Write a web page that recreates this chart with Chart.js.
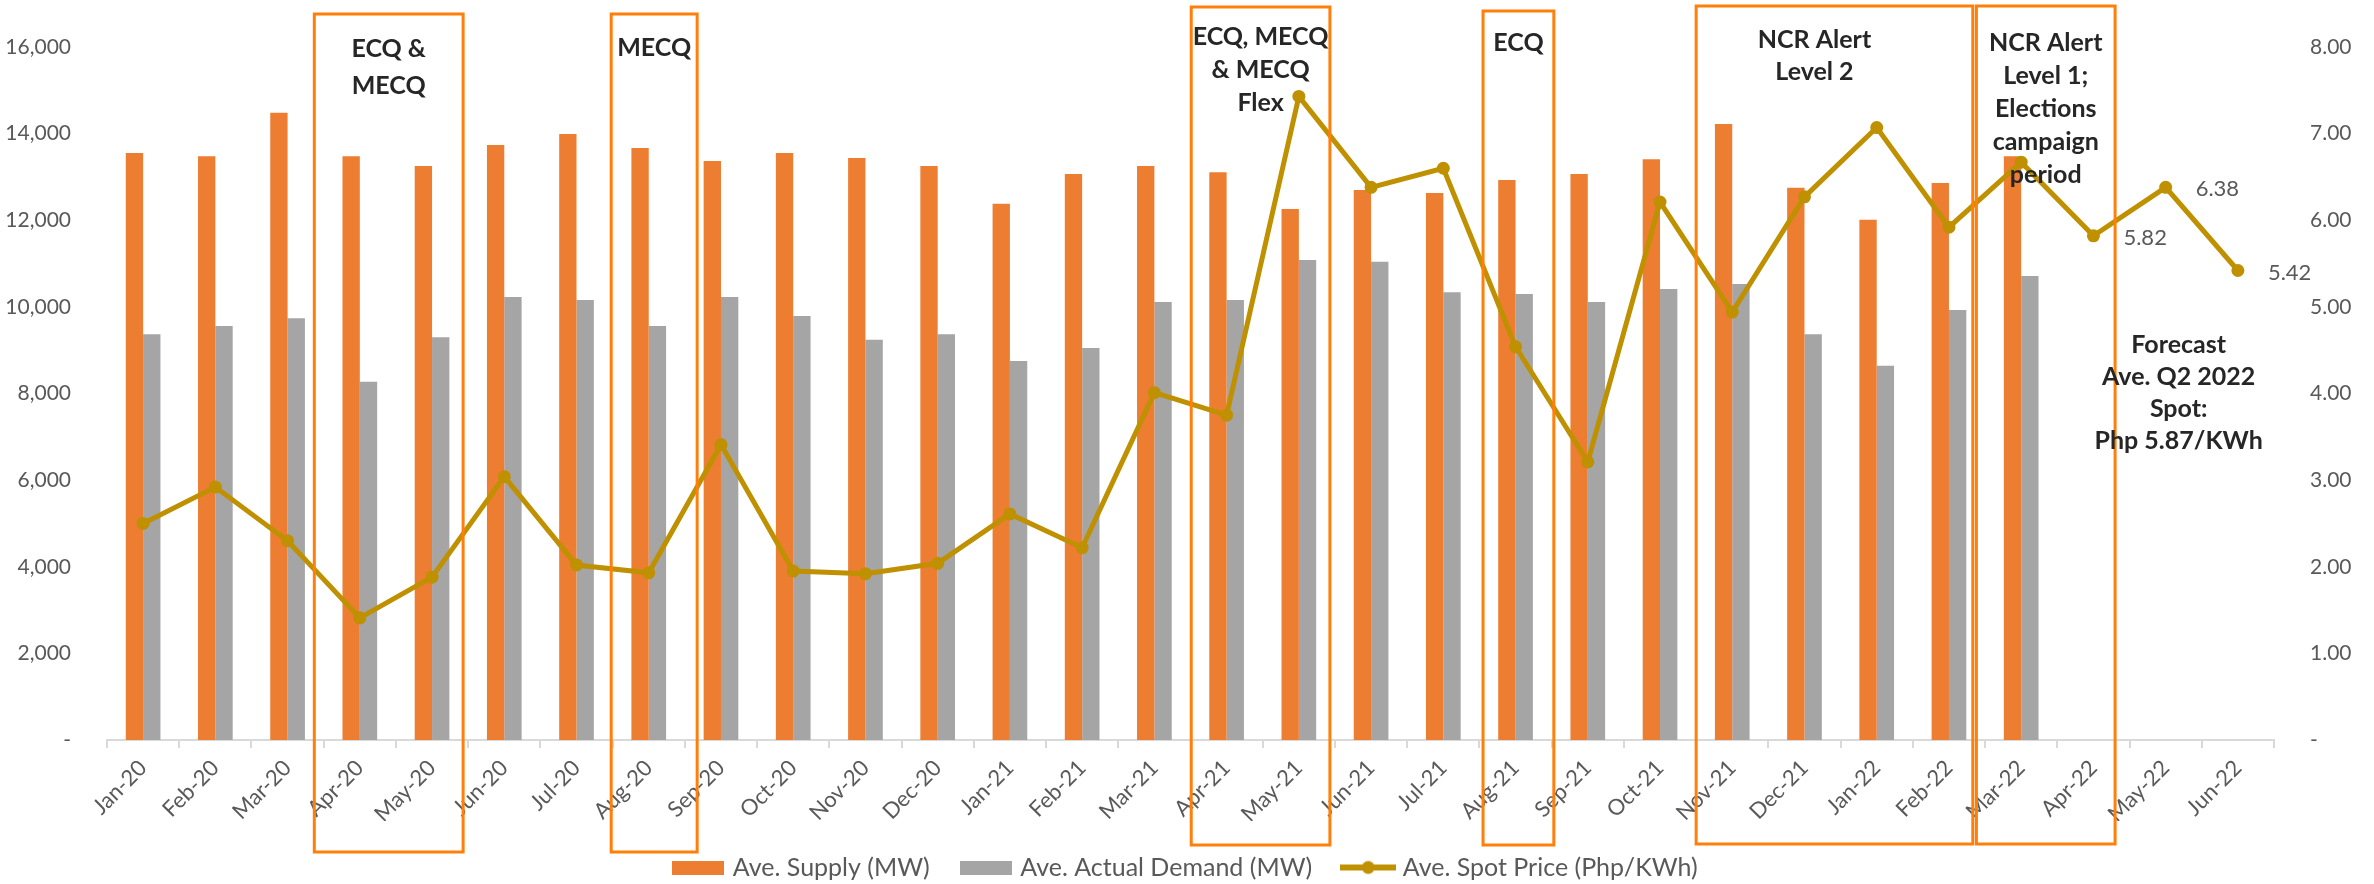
<!DOCTYPE html>
<html>
<head>
<meta charset="utf-8">
<title>Ave. Supply, Actual Demand and Spot Price</title>
<script src="https://cdn.jsdelivr.net/npm/chart.js@4.4.0/dist/chart.umd.min.js"></script>
<style>
	html, body { margin: 0; padding: 0; background: #ffffff; }
	#wrap { width: 2374px; height: 884px; }
</style>
</head>
<body>
<div id="wrap"><canvas id="chart" width="2374" height="884"></canvas></div>
<script>
(() => {
	'use strict'

	// Categories
	const months = ['Jan-20', 'Feb-20', 'Mar-20', 'Apr-20', 'May-20', 'Jun-20', 'Jul-20', 'Aug-20', 'Sep-20', 'Oct-20', 'Nov-20', 'Dec-20',
		'Jan-21', 'Feb-21', 'Mar-21', 'Apr-21', 'May-21', 'Jun-21', 'Jul-21', 'Aug-21', 'Sep-21', 'Oct-21', 'Nov-21', 'Dec-21',
		'Jan-22', 'Feb-22', 'Mar-22', 'Apr-22', 'May-22', 'Jun-22'];

	// Series values (MW and Php/KWh)
	const supply = [13550, 13480, 14480, 13480, 13250, 13740, 13990, 13670, 13370, 13550, 13440, 13250,
		12380, 13070, 13250, 13110, 12260, 12700, 12630, 12930, 13070, 13410, 14220, 12750,
		12010, 12860, 13480, null, null, null];
	const demand = [9370, 9560, 9740, 8270, 9300, 10230, 10160, 9560, 10230, 9790, 9240, 9370,
		8750, 9050, 10110, 10160, 11080, 11040, 10340, 10300, 10110, 10410, 10530, 9370,
		8640, 9930, 10710, null, null, null];
	const spotPrice = [2.50, 2.92, 2.30, 1.41, 1.88, 3.04, 2.02, 1.93, 3.41, 1.95, 1.92, 2.04,
		2.61, 2.22, 4.01, 3.75, 7.43, 6.38, 6.60, 4.54, 3.21, 6.21, 4.94, 6.27,
		7.07, 5.92, 6.67, 5.82, 6.38, 5.42];

	// Tick labels
	const mwTicks = [0, 2000, 4000, 6000, 8000, 10000, 12000, 14000, 16000];
	const priceTicks = [0, 1, 2, 3, 4, 5, 6, 7, 8];

	// Series names
	const seriesNames = ['Ave. Supply (MW)', 'Ave. Actual Demand (MW)', 'Ave. Spot Price (Php/KWh)'];

	// Quarantine periods marked on the chart
	const periodFirst = ['Apr-20', 'Aug-20', 'Apr-21', 'Aug-21', 'Nov-21', 'Mar-22'];
	const periodLast = ['May-20', 'Aug-20', 'May-21', 'Aug-21', 'Feb-22', 'Apr-22'];
	const periodNotes = [
		['ECQ &', 'MECQ'],
		['MECQ'],
		['ECQ, MECQ', '& MECQ', 'Flex'],
		['ECQ'],
		['NCR Alert', 'Level 2'],
		['NCR Alert', 'Level 1;', 'Elections', 'campaign', 'period'],
	];
	const forecastNote = ['Forecast', 'Ave. Q2 2022', 'Spot:', 'Php 5.87/KWh'];
	const labelledMonths = ['Apr-22', 'May-22', 'Jun-22'];

	// Colours and fonts
	const orange = '#ED7D31';
	const grey = '#A5A5A5';
	const gold = '#BF9000';
	const boxColor = '#FF7F0A';
	const textColor = '#595959';
	const fontFamily = 'Lato, "Noto Sans", sans-serif';

	// Box layout (insets in category widths, pixel rows)
	const boxLayout = [
		{ padL: 0.63, padR: 0.43, top: 14, bottom: 852, textY: 49, lineH: 37, dx: 0 },
		{ padL: 0.52, padR: 0.67, top: 14, bottom: 852, textY: 48, lineH: 33, dx: 0 },
		{ padL: 0.49, padR: 0.43, top: 7, bottom: 845, textY: 37, lineH: 33, dx: 0 },
		{ padL: 0.45, padR: 0.53, top: 11, bottom: 845, textY: 43, lineH: 33, dx: 0 },
		{ padL: 0.50, padR: 0.33, top: 6, bottom: 844, textY: 40, lineH: 32, dx: -20 },
		{ padL: 0.62, padR: 0.30, top: 6, bottom: 844, textY: 43, lineH: 33, dx: 0 },
	];

	// Legend icons
	function makeIcon(w, h, draw) {
		const c = document.createElement('canvas');
		c.width = w;
		c.height = h;
		draw(c.getContext('2d'));
		return c;
	}
	const legendIcons = [
		makeIcon(52, 14, (ctx) => { ctx.fillStyle = orange; ctx.fillRect(0, 0, 52, 14); }),
		makeIcon(52, 14, (ctx) => { ctx.fillStyle = grey; ctx.fillRect(0, 0, 52, 14); }),
		makeIcon(56, 16, (ctx) => {
			ctx.fillStyle = gold;
			ctx.fillRect(0, 5, 56, 6);
			ctx.beginPath();
			ctx.arc(28, 8, 6.5, 0, Math.PI * 2);
			ctx.fill();
		}),
	];

	// Boxes and notes
	const notesPlugin = {
		id: 'notes',
		afterDraw(chart) {
			const ctx = chart.ctx;
			const x = chart.scales.x;
			const catW = x.width / months.length;
			ctx.save();
			ctx.strokeStyle = boxColor;
			ctx.lineWidth = 3;
			ctx.fillStyle = '#262626';
			ctx.font = 'bold 25px ' + fontFamily;
			ctx.textAlign = 'center';
			ctx.textBaseline = 'middle';
			periodFirst.forEach((first, i) => {
				const lay = boxLayout[i];
				const left = x.getPixelForValue(months.indexOf(first)) - lay.padL * catW;
				const right = x.getPixelForValue(months.indexOf(periodLast[i])) + lay.padR * catW;
				ctx.strokeRect(left, lay.top, right - left, lay.bottom - lay.top);
				const cx = (left + right) / 2 + lay.dx;
				periodNotes[i].forEach((line, j) => {
					ctx.fillText(line, cx, lay.textY + j * lay.lineH);
				});
			});
			const fx = x.getPixelForValue(months.indexOf('May-22')) + 13;
			forecastNote.forEach((line, j) => {
				ctx.fillText(line, fx, 345 + j * 32);
			});
			ctx.restore();
		}
	};

	// Value labels for the last spot prices
	const priceLabelPlugin = {
		id: 'priceLabels',
		afterDatasetsDraw(chart) {
			const ctx = chart.ctx;
			const meta = chart.getDatasetMeta(2);
			ctx.save();
			ctx.fillStyle = textColor;
			ctx.font = '22px ' + fontFamily;
			ctx.textAlign = 'left';
			ctx.textBaseline = 'middle';
			labelledMonths.forEach((m) => {
				const i = months.indexOf(m);
				const pt = meta.data[i];
				ctx.fillText(spotPrice[i].toFixed(2), pt.x + 30, pt.y + 2);
			});
			ctx.restore();
		}
	};

	const config = {
		data: {
			labels: months,
			datasets: [
				{
					type: 'bar',
					label: seriesNames[0],
					data: supply,
					backgroundColor: orange,
					yAxisID: 'y',
					order: 1,
					categoryPercentage: 0.48,
					barPercentage: 1,
				},
				{
					type: 'bar',
					label: seriesNames[1],
					data: demand,
					backgroundColor: grey,
					yAxisID: 'y',
					order: 1,
					categoryPercentage: 0.48,
					barPercentage: 1,
				},
				{
					type: 'line',
					label: seriesNames[2],
					data: spotPrice,
					borderColor: gold,
					backgroundColor: gold,
					borderWidth: 5,
					pointRadius: 6.5,
					pointBorderWidth: 0,
					pointBackgroundColor: gold,
					tension: 0,
					yAxisID: 'y1',
					order: 0,
				},
			]
		},
		options: {
			responsive: false,
			animation: false,
			devicePixelRatio: 1,
			layout: {
				padding: { top: 47, left: 0, right: 0, bottom: -6 }
			},
			scales: {
				x: {
					grid: {
						offset: true,
						drawOnChartArea: false,
						drawTicks: true,
						tickLength: 8,
						color: '#D9D9D9',
						lineWidth: 2,
					},
					border: { display: true, color: '#D9D9D9', width: 2 },
					ticks: {
						color: textColor,
						font: { family: fontFamily, size: 22 },
						minRotation: 45,
						maxRotation: 45,
						autoSkip: false,
						padding: 7,
					},
					afterFit: (s) => { s.height = 81; },
				},
				y: {
					position: 'left',
					min: 0,
					max: 16000,
					grid: { display: false },
					border: { display: false },
					ticks: {
						color: textColor,
						font: { family: fontFamily, size: 21 },
						padding: 28,
						callback: (v) => v === 0 ? '-' : v.toLocaleString('en-US'),
					},
					afterBuildTicks: (s) => { s.ticks = mwTicks.map((v) => ({ value: v })); },
					afterFit: (s) => { s.width = 107; },
				},
				y1: {
					position: 'right',
					min: 0,
					max: 8,
					grid: { display: false },
					border: { display: false },
					ticks: {
						color: textColor,
						font: { family: fontFamily, size: 21 },
						padding: 28,
						callback: (v) => v === 0 ? '-' : v.toFixed(2),
					},
					afterBuildTicks: (s) => { s.ticks = priceTicks.map((v) => ({ value: v })); },
					afterFit: (s) => { s.width = 100; },
				},
			},
			plugins: {
				legend: {
					position: 'bottom',
					labels: {
						usePointStyle: true,
						pointStyleWidth: 44,
						padding: 34,
						color: textColor,
						font: { family: fontFamily, size: 25 },
						generateLabels: (chart) => chart.data.datasets.map((ds, i) => ({
							text: ds.label,
							pointStyle: legendIcons[i],
							fillStyle: 'transparent',
							strokeStyle: 'transparent',
							lineWidth: 0,
							fontColor: textColor,
							hidden: !chart.isDatasetVisible(i),
							datasetIndex: i,
						})),
					}
				},
				tooltip: { enabled: false },
				title: { display: false },
			}
		},
		plugins: [priceLabelPlugin, notesPlugin],
	};

	const myChart = new Chart(document.getElementById('chart'), config);
})()
</script>
</body>
</html>
